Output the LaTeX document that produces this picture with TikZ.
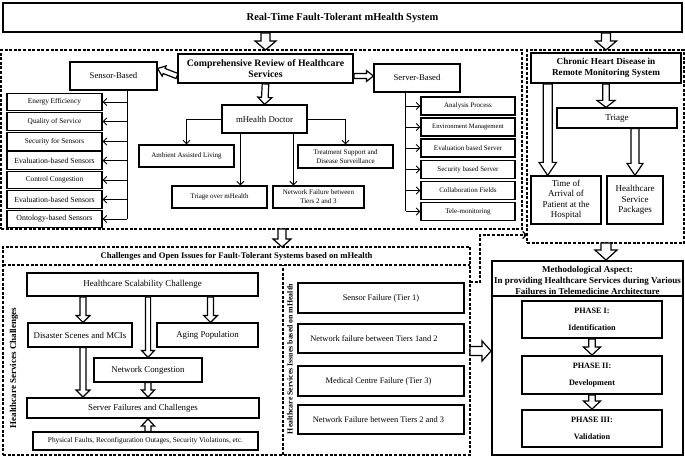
\documentclass[tikz,border=0pt]{standalone}
\usepackage{fontspec}
\setmainfont{Liberation Serif}
\usetikzlibrary{arrows.meta,calc}

\newcommand\fs[2]{\fontsize{#1pt}{#2pt}\selectfont}

% hollow block arrow: shaft half-width, head half-width, head length, from, to
\newcommand\harrowx[5]{%
  \path[draw=black, fill=white, line width=1.2pt, line join=miter, miter limit=10]
    let \p1=#4, \p2=#5,
        \n1={atan2(\y2-\y1,\x2-\x1)},
        \n2={veclen(\x2-\x1,\y2-\y1)} in
    [shift={(\p1)}, rotate=\n1]
    (0pt,-#1pt) -- ({\n2-#3pt},-#1pt) -- ({\n2-#3pt},-#2pt) -- (\n2,0pt)
    -- ({\n2-#3pt},#2pt) -- ({\n2-#3pt},#1pt) -- (0pt,#1pt) -- cycle;}

\tikzset{
  box/.style={draw, line width=1.2pt, inner sep=1pt, align=center, fill=white},
  bbox/.style={box, line width=1.9pt},
  dbox/.style={draw, line width=1.2pt, dash pattern=on 3pt off 1.6pt, inner sep=0pt, outer sep=0pt},
  dline/.style={line width=1.2pt, dash pattern=on 3pt off 1.6pt},
  tarr/.style={line width=0.9pt, -{Straight Barb[length=3.5pt,width=7pt]}},
  tline/.style={line width=0.9pt},
  subS/.style={box, line width=1.3pt, minimum width=95pt, minimum height=17.5pt, font=\fs{7.3}{8.5}},
  subV/.style={box, line width=1.3pt, minimum width=94pt, minimum height=18pt, font=\fs{7}{8.5}},
  smallbox/.style={box, line width=1.2pt, font=\fs{7}{9}},
}

% \B[style]{name}{cx}{cy}{w}{h}{text}
\newcommand\B[7][box]{\node[#1, minimum width=#5pt, minimum height=#6pt] (#2) at (#3,#4) {#7};}

\begin{document}
\begin{tikzpicture}[x=1pt,y=-1pt]
\useasboundingbox (0,0) rectangle (685,457);

% ---------- dashed regions ----------
\node[dbox, minimum width=521pt, minimum height=179pt] (leftreg) at (261.5,139.5) {};
\node[dbox, minimum width=157pt, minimum height=193pt] (rightreg) at (605.5,146.5) {};
\node[dbox, minimum width=467pt, minimum height=208pt] (chall) at (236.5,351) {};
\draw[dline] ($(chall.north west)+(0,18)$) -- ($(chall.north east)+(0,18)$);
\draw[dline] ($(chall.south west)+(280,0)$) -- ($(chall.north west)+(280,18)$);

% ---------- title ----------
\B[bbox, font=\bfseries\fs{10.5}{12}]{title}{342.5}{17.5}{679}{29}{Real-Time Fault-Tolerant mHealth System}

% ---------- comprehensive review ----------
\B[bbox, font=\bfseries\fs{9.8}{11}]{comp}{265.5}{68.5}{175}{29}{Comprehensive Review of Healthcare\\Services}
\B[box, font=\fs{8.7}{10}]{sensor}{113.5}{76}{87}{28}{Sensor-Based}
\B[box, font=\fs{8.7}{10}]{server}{417}{78}{86}{28}{Server-Based}

\node[subS] (ss1) at (54.5,102) {Energy Efficiency};
\node[subS] (ss2) at (54.5,121.5) {Quality of Service};
\node[subS] (ss3) at (54.5,141.5) {Security for Sensors};
\node[subS, font=\fs{7.8}{9}] (ss4) at (54.5,160.5) {Evaluation-based Sensors};
\node[subS] (ss5) at (54.5,180) {Control Congestion};
\node[subS, font=\fs{7.8}{9}] (ss6) at (54.5,199.5) {Evaluation-based Sensors};
\node[subS, font=\fs{7.8}{9}] (ss7) at (54.5,219) {Ontology-based Sensors};

\node[subV] (sv1) at (468,106) {Analysis Process};
\node[subV, font=\fs{6.7}{8}] (sv2) at (468,127) {Environment Management};
\node[subV] (sv3) at (468,148) {Evaluation based Server};
\node[subV] (sv4) at (468,169.5) {Security based Server};
\node[subV] (sv5) at (468,190.5) {Collaboration Fields};
\node[subV] (sv6) at (468,211.5) {Tele-monitoring};

\B[box, font=\fs{8.8}{10}]{doc}{264.5}{119}{85}{28}{mHealth Doctor}
\B[smallbox]{aal}{186.5}{156}{95}{22}{Ambient Assisted Living}
\B[smallbox]{tsd}{345.5}{156.5}{95}{23}{Treatment Support and\\Disease Surveillance}
\B[smallbox]{tri}{219.5}{197}{95}{22}{Triage over mHealth}
\B[smallbox]{nf23}{318.5}{197}{91}{22}{Network Failure between\\Tiers 2 and 3}

% sensor / server trees
\coordinate (sv) at ($(sensor.south west)!0.655!(sensor.south east)$);
\draw[tline] (sv) -- (sv |- ss7.east);
\foreach \i in {1,...,7} \draw[tarr] (sv |- ss\i.east) -- (ss\i.east);
\coordinate (rv) at ($(server.south west)!0.372!(server.south east)$);
\draw[tline] (rv) -- (rv |- sv6.west);
\foreach \i in {1,...,6} \draw[tarr] (rv |- sv\i.west) -- (sv\i.west);

% doctor connectors
\coordinate (dl) at ($(doc.south west)!0.22!(doc.south east)$);
\coordinate (dr) at ($(doc.south west)!0.835!(doc.south east)$);
\draw[tarr] (doc.west) -| (aal.north);
\draw[tarr] (dl) -- (dl |- tri.north);
\draw[tarr] (dr) -- (dr |- nf23.north);
\draw[tarr] (doc.east) -| (tsd.north);

% ---------- chronic heart disease ----------
\B[bbox, font=\bfseries\fs{9.2}{11}]{chronic}{606}{68}{150}{30}{Chronic Heart Disease in\\Remote Monitoring System}
\B[box, font=\fs{9}{10}]{triage}{617}{118}{120}{20}{Triage}
\B[box, font=\fs{9}{10.5}]{toa}{566}{200}{70}{48}{Time of\\Arrival of\\Patient at the\\Hospital}
\B[box, font=\fs{9}{10.5}]{hsp}{635}{200}{56}{48}{Healthcare\\Service\\Packages}

% ---------- challenges ----------
\node[font=\bfseries\fs{8.6}{10}] (chtitle) at (236.5,256) {Challenges and Open Issues for Fault-Tolerant Systems based on mHealth};
\node[rotate=90, font=\bfseries\fs{9}{10}] (lab1) at (14,368) {Healthcare Services Challenges};
\node[rotate=90, font=\bfseries\fs{7.8}{9}] (lab2) at (290,359) {Healthcare Services Issues based on mHealth};

\B[bbox, font=\fs{9}{10}]{scal}{142.5}{284.5}{231}{23}{Healthcare Scalability Challenge}
\B[box, font=\fs{8.8}{10}]{dis}{80}{335}{104}{24}{Disaster Scenes and MCIs}
\B[box, font=\fs{8.8}{10}]{aging}{207.5}{335}{101}{24}{Aging Population}
\B[box, font=\fs{8.8}{10}]{netc}{148}{370}{108}{24}{Network Congestion}
\B[bbox, font=\fs{8.8}{10}]{sfc}{143}{408}{232}{20}{Server Failures and Challenges}
\B[box, font=\fs{7.3}{8.5}]{phys}{145.5}{441}{225}{18}{Physical Faults, Reconfiguration Outages, Security Violations, etc.}

\B[bbox, font=\fs{8.4}{10}]{sf1}{381}{298}{166}{30}{Sensor Failure (Tier 1)}
\B[bbox, font=\fs{8.4}{10}]{sf2}{381}{338.5}{166}{29}{\hspace*{-14pt}Network failure between Tiers 1and 2}
\B[bbox, font=\fs{8.4}{10}]{sf3}{381}{381}{166}{30}{\hspace*{-5pt}Medical Centre Failure (Tier 3)}
\B[bbox, font=\fs{8.4}{10}]{sf4}{381}{419.5}{166}{29}{\hspace*{-5pt}Network Failure between Tiers 2 and 3}

% ---------- methodological ----------
\B[bbox]{meth}{587.5}{358}{191}{194}{}
\draw[line width=1.9pt] ($(meth.north west)+(0,36)$) -- ($(meth.north east)+(0,36)$);
\node[font=\bfseries\fs{9}{11}, align=center] (mtext) at (587.5,280) {Methodological Aspect:\\In providing Healthcare Services during Various\\Failures in Telemedicine Architecture};
\B[bbox, font=\bfseries\fs{8.2}{10}]{p1}{592}{319.5}{140}{37}{PHASE I:\\[7pt]Identification}
\B[bbox, font=\bfseries\fs{8.2}{10}]{p2}{592}{375}{140}{38}{PHASE II:\\[7pt]Development}
\B[bbox, font=\bfseries\fs{8.2}{10}]{p3}{592}{428.5}{140}{37}{PHASE III:\\[7pt]Validation}

% dashed connector
\draw[dline, -{Straight Barb[length=3.5pt,width=7pt]}] (chall.east |- sf1.north) -- ++(10,0) |- ($(rightreg.south west)+(0,-8)$);

% ---------- hollow arrows ----------
\harrowx{4.5}{10.5}{9}{(comp.north |- title.south)}{(comp.north |- leftreg.north)}
\harrowx{4.5}{10.5}{9}{(chronic.north |- title.south)}{(chronic.north |- rightreg.north)}
\harrowx{2.7}{5.5}{7}{(comp.west |- sensor.east)}{(sensor.east |- comp.west)}
\harrowx{2.5}{5.5}{7}{(comp.east |- sensor.east)}{(server.west |- sensor.east)}
\harrowx{3.3}{7}{7}{(comp.south)}{(doc.north)}

\harrowx{3.3}{9}{7}{(chronic.south)}{(chronic.south |- triage.north)}
\coordinate (tl) at ($(toa.north west)!0.243!(toa.north east)$);
\harrowx{4.5}{8.7}{13}{(tl |- chronic.south)}{(tl)}
\harrowx{4}{8}{12}{(hsp.north |- triage.south)}{(hsp.north)}

\harrowx{4}{9}{8}{($(leftreg.south)+(20.5,0)$)}{($(chall.north)+(45.5,0)$)}
\harrowx{5}{11}{10}{(chronic.south |- rightreg.south)}{(chronic.south |- meth.north)}
\harrowx{4.5}{10}{9}{(chall.east)}{(chall.east -| meth.west)}

\harrowx{3}{7}{7}{($(dis.north |- scal.south)+(3,0)$)}{($(dis.north)+(3,0)$)}
\harrowx{2.6}{6.5}{7}{(netc.north |- scal.south)}{(netc.north)}
\harrowx{3}{7}{7}{($(aging.north |- scal.south)+(3,0)$)}{($(aging.north)+(3,0)$)}
\harrowx{3}{7}{7}{($(dis.south)+(3,0)$)}{($(dis.south |- sfc.north)+(3,0)$)}
\harrowx{3}{6.5}{7}{(netc.south)}{(netc.south |- sfc.north)}
\harrowx{3}{6.5}{7}{(netc.south |- phys.north)}{(netc.south |- sfc.south)}

\harrowx{3.3}{8.5}{8}{(p1.south)}{(p2.north)}
\harrowx{3.3}{8.5}{8}{(p2.south)}{(p3.north)}

\end{tikzpicture}
\end{document}
